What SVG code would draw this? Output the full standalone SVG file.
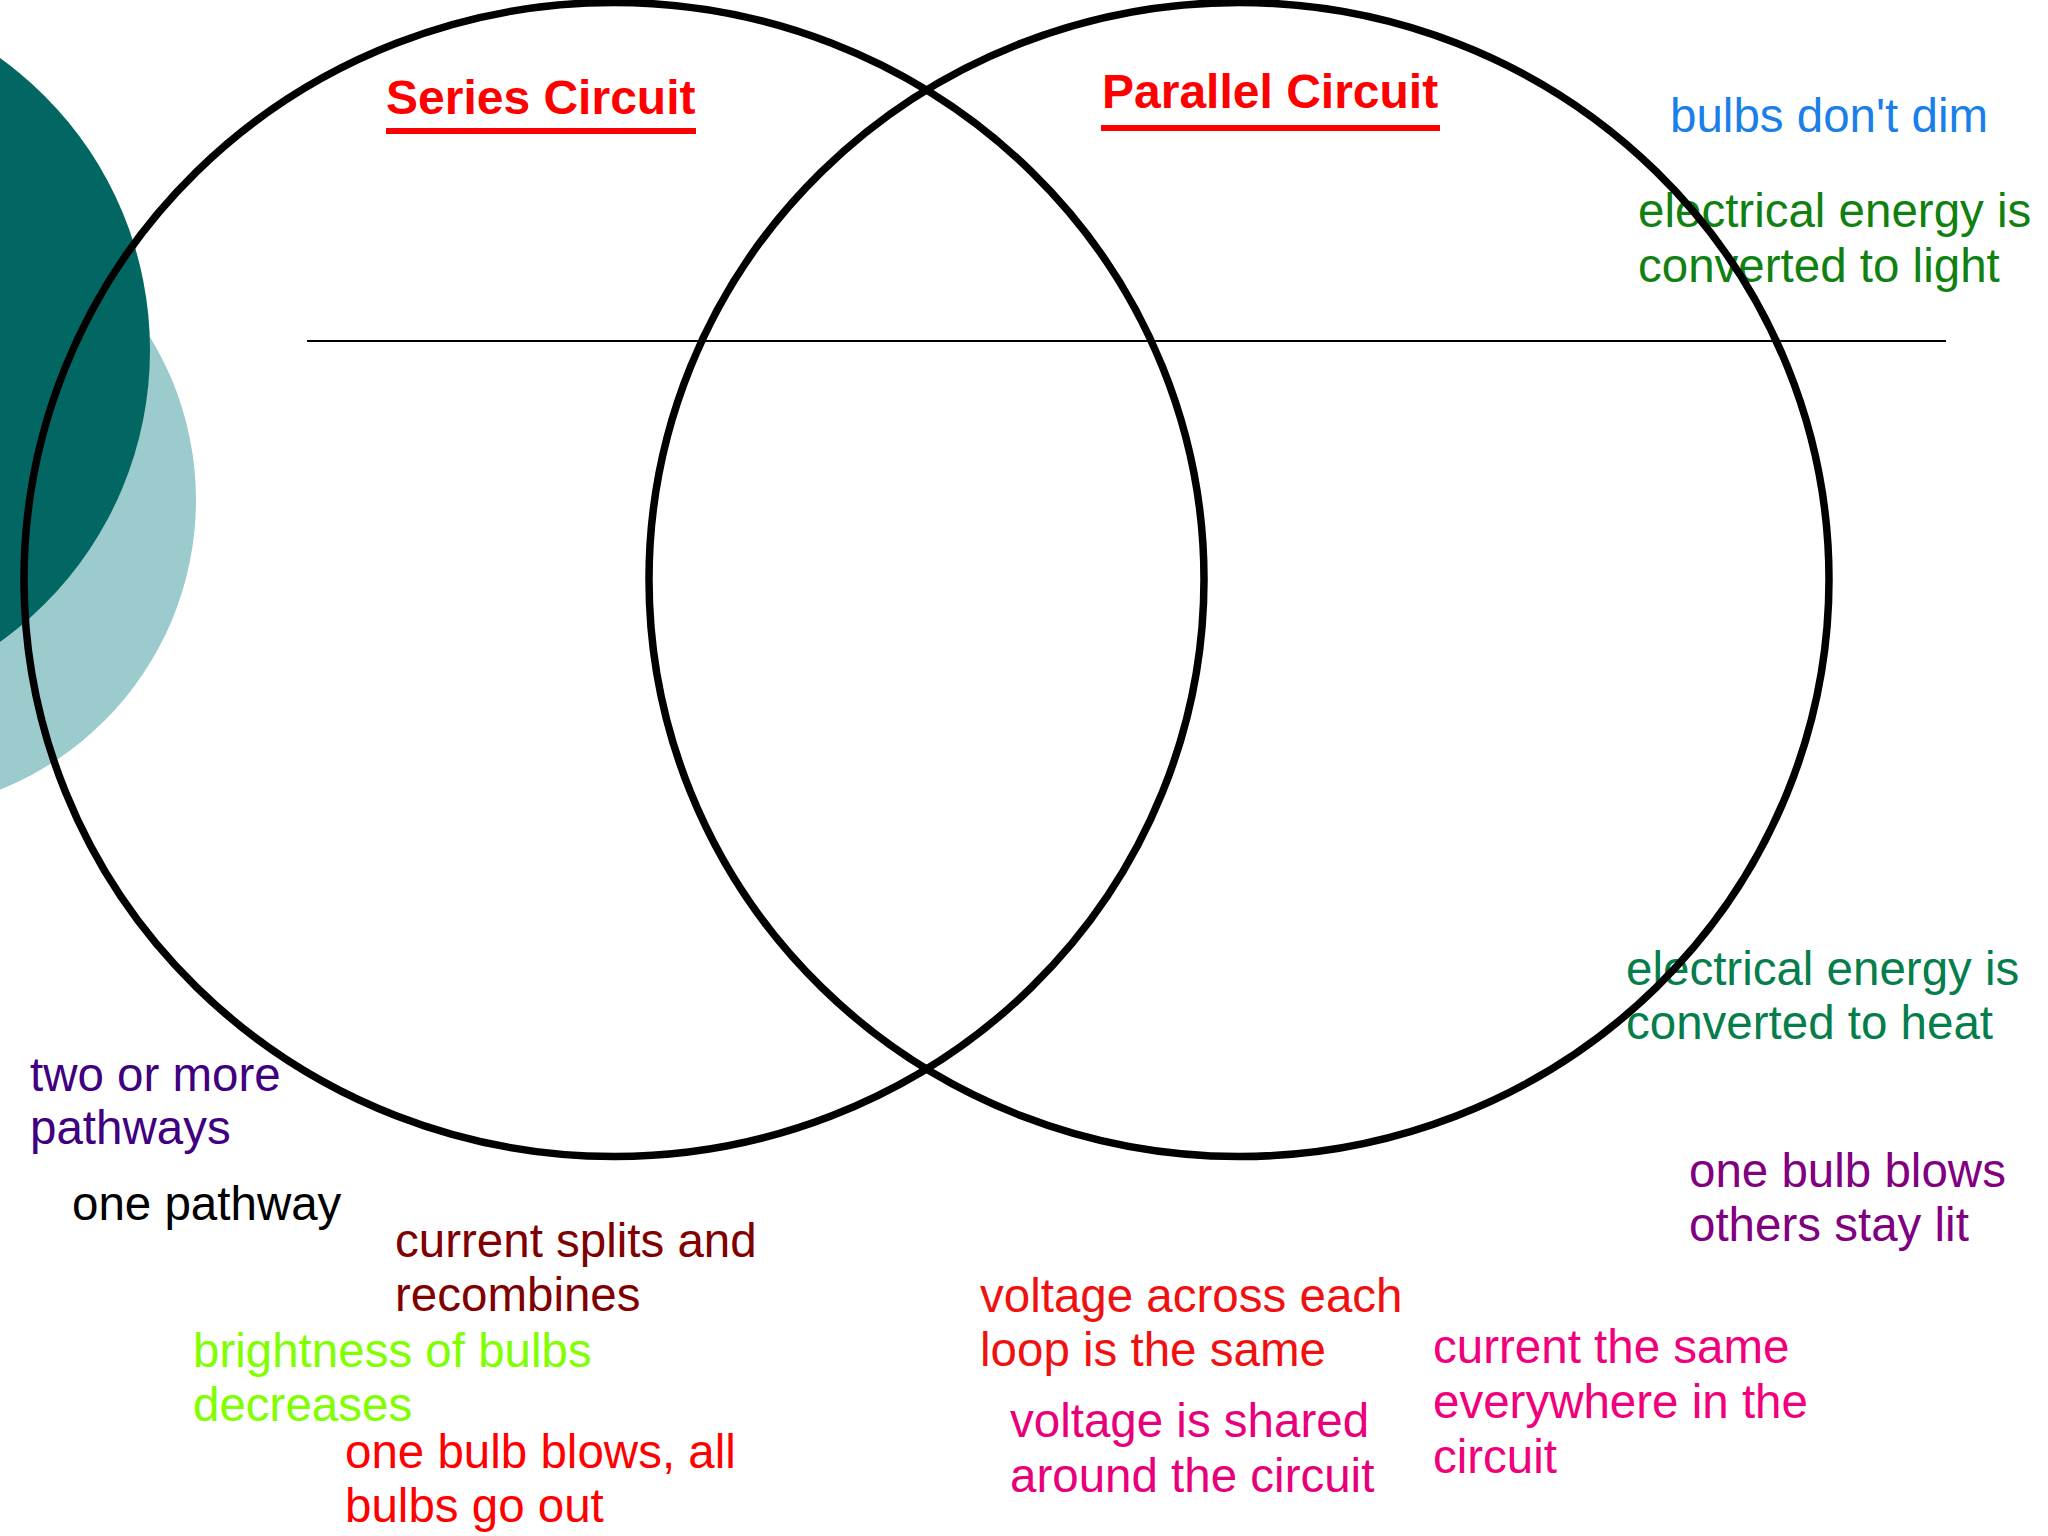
<svg xmlns="http://www.w3.org/2000/svg" width="2048" height="1536" viewBox="0 0 2048 1536">
<style>
.t{font-family:"Liberation Sans",Arial,sans-serif;font-size:47.5px}
.h{font-family:"Liberation Sans",Arial,sans-serif;font-size:48px;font-weight:bold;fill:#ff0000}
.ring{fill:none;stroke:#000;stroke-width:7.5}
</style>
<rect width="2048" height="1536" fill="#fff"/>
<g id="decor">
<circle cx="-116" cy="500" r="312" fill="#9ccbcd"/>
<circle cx="-209" cy="350" r="359" fill="#026663"/>
</g>
<g id="labels">
<g id="series-title"><text class="h" x="386" y="114">Series Circuit</text><rect x="386" y="128" width="310" height="6" fill="#ff0000"/></g>
<g id="parallel-title"><text class="h" x="1102" y="108">Parallel Circuit</text><rect x="1101" y="125" width="339" height="6" fill="#ff0000"/></g>
<g id="t-dim"><text class="t" x="1670" y="132" fill="#1a7fe8">bulbs don't dim</text></g>
<g id="t-light"><text class="t" x="1638" y="227" fill="#108010">electrical energy is</text><text class="t" x="1638" y="282" fill="#108010">converted to light</text></g>
<g id="t-heat"><text class="t" x="1626" y="985" fill="#067e4c">electrical energy is</text><text class="t" x="1626" y="1039" fill="#067e4c">converted to heat</text></g>
<g id="t-others"><text class="t" x="1689" y="1187" fill="#800080">one bulb blows</text><text class="t" x="1689" y="1241" fill="#800080">others stay lit</text></g>
<g id="t-two"><text class="t" x="30" y="1091" fill="#400080">two or more</text><text class="t" x="30" y="1144" fill="#400080">pathways</text></g>
<g id="t-one"><text class="t" x="72" y="1220" fill="#000">one pathway</text></g>
<g id="t-splits"><text class="t" x="395" y="1257" fill="#800000">current splits and</text><text class="t" x="395" y="1311" fill="#800000">recombines</text></g>
<g id="t-bright"><text class="t" x="193" y="1367" fill="#80ff00">brightness of bulbs</text><text class="t" x="193" y="1421" fill="#80ff00">decreases</text></g>
<g id="t-allout"><text class="t" x="345" y="1468" fill="#ff0000">one bulb blows, all</text><text class="t" x="345" y="1522" fill="#ff0000">bulbs go out</text></g>
<g id="t-vloop"><text class="t" x="980" y="1312" fill="#f01010">voltage across each</text><text class="t" x="980" y="1366" fill="#f01010">loop is the same</text></g>
<g id="t-vshared"><text class="t" x="1010" y="1437" fill="#e8007a">voltage is shared</text><text class="t" x="1010" y="1492" fill="#e8007a">around the circuit</text></g>
<g id="t-current"><text class="t" x="1433" y="1363" fill="#f0007a">current the same</text><text class="t" x="1433" y="1418" fill="#f0007a">everywhere in the</text><text class="t" x="1433" y="1473" fill="#f0007a">circuit</text></g>
</g>
<g id="series-circle"><ellipse class="ring" cx="614" cy="579.5" rx="590" ry="577"/></g>
<g id="parallel-circle"><ellipse class="ring" cx="1239" cy="579.5" rx="590" ry="577"/></g>
<g id="connectors"><line x1="307" y1="341" x2="1946" y2="341" stroke="#000" stroke-width="2"/></g>
</svg>
